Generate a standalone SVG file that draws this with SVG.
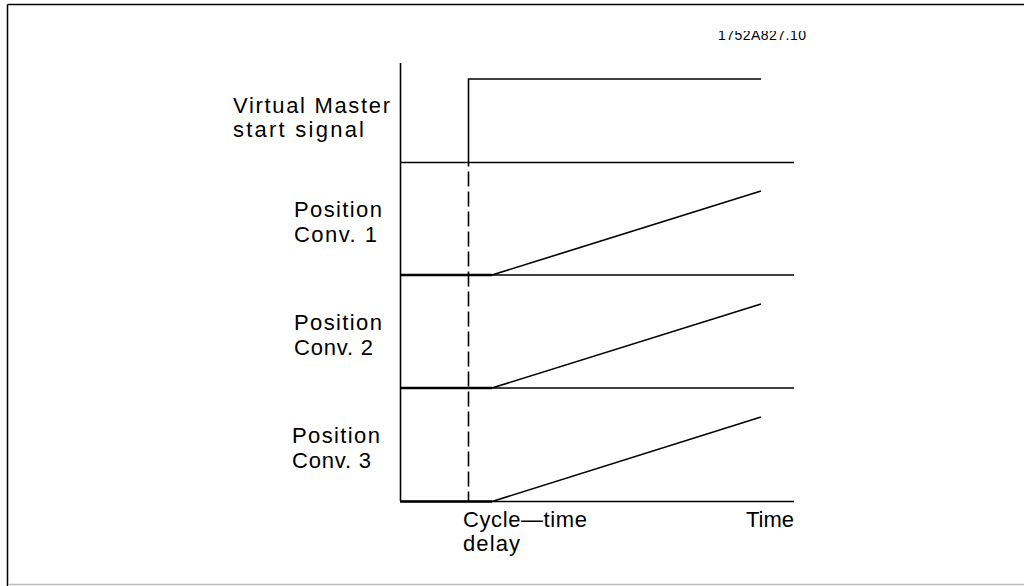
<svg xmlns="http://www.w3.org/2000/svg" width="1024" height="586" viewBox="0 0 1024 586">
<style>
.ln{stroke:#000;stroke-width:1.6;fill:none}
.t{font-family:"Liberation Sans",Arial,sans-serif;font-size:22px;fill:#000}
.c{font-family:"Liberation Sans",Arial,sans-serif;font-size:14px;fill:#000}
</style>
<defs><clipPath id="cp"><rect x="700" y="31" width="130" height="20"/></clipPath></defs>
<rect width="1024" height="586" fill="#fff"/>
<g id="frame">
<line x1="7.5" y1="4.5" x2="1024" y2="4.5" stroke="#000" stroke-width="1.5"/>
<line x1="7.5" y1="4.5" x2="7.5" y2="586" stroke="#000" stroke-width="1.5"/>
<line x1="8" y1="584.5" x2="1024" y2="584.5" stroke="#bbb" stroke-width="1.5"/>
</g>
<g id="code"><text class="c" x="718" y="40" textLength="88" clip-path="url(#cp)">1752A827.10</text></g>
<g id="axes">
<line class="ln" x1="400.5" y1="63" x2="400.5" y2="501"/>
<line class="ln" x1="400" y1="162.5" x2="794" y2="162.5"/>
<line class="ln" x1="400" y1="275" x2="794" y2="275"/>
<line class="ln" x1="400" y1="388" x2="794" y2="388"/>
<line class="ln" x1="400" y1="501.5" x2="794" y2="501.5"/>
</g>
<g id="signal">
<polyline class="ln" points="468.5,162.5 468.5,79 761,79"/>
</g>
<g id="connectors">
<line class="ln" x1="468.5" y1="162.5" x2="468.5" y2="501" stroke-dasharray="15 5" stroke-dashoffset="-9"/>
</g>
<g id="conv1">
<line x1="400" y1="275" x2="492" y2="275" stroke="#000" stroke-width="2.4"/>
<line class="ln" x1="492" y1="275" x2="761" y2="191"/>
</g>
<g id="conv2">
<line x1="400" y1="388" x2="492" y2="388" stroke="#000" stroke-width="2.4"/>
<line class="ln" x1="492" y1="388" x2="761" y2="304"/>
</g>
<g id="conv3">
<line x1="400" y1="501.5" x2="492" y2="501.5" stroke="#000" stroke-width="2.4"/>
<line class="ln" x1="492" y1="501.5" x2="761" y2="417"/>
</g>
<g id="labels">
<text class="t" x="233" y="113" textLength="157">Virtual Master</text>
<text class="t" x="233" y="137" textLength="131">start signal</text>
<text class="t" x="294" y="217" textLength="88">Position</text>
<text class="t" x="294" y="242" textLength="83">Conv. 1</text>
<text class="t" x="294" y="330" textLength="88">Position</text>
<text class="t" x="294" y="355" textLength="79">Conv. 2</text>
<text class="t" x="292" y="443" textLength="88">Position</text>
<text class="t" x="292" y="468" textLength="79">Conv. 3</text>
<text class="t" x="463" y="527" textLength="124">Cycle—time</text>
<text class="t" x="463" y="551" textLength="57">delay</text>
<text class="t" x="746" y="527" textLength="48">Time</text>
</g>
</svg>
